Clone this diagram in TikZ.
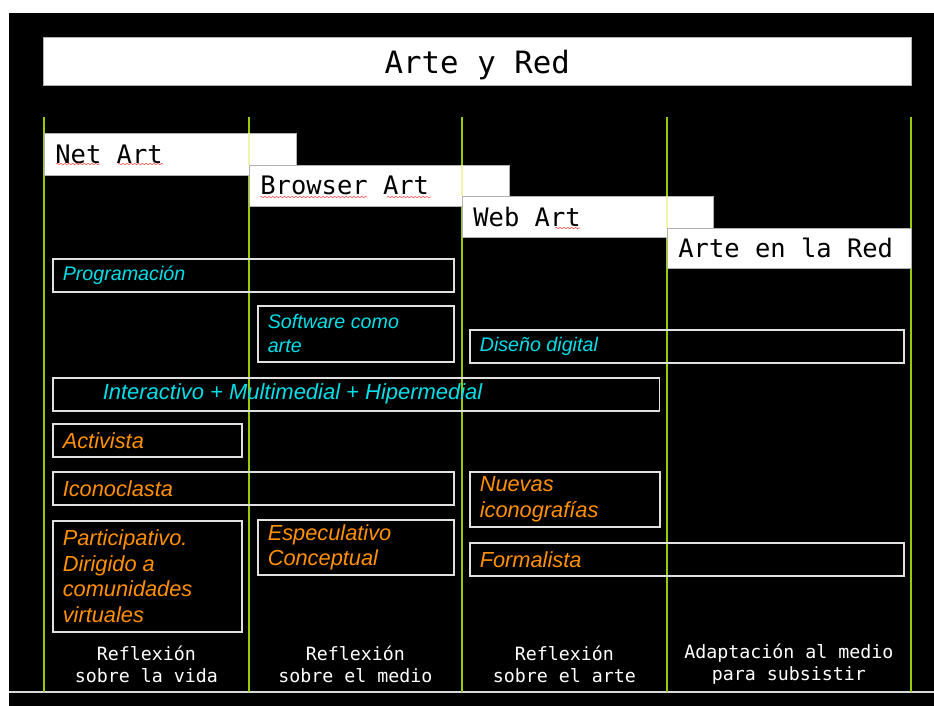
\documentclass[tikz,border=0pt]{standalone}
\usepackage{fontspec}
\setmainfont{Liberation Sans}
\newfontfamily\monofont{DejaVu Sans Mono}
\usetikzlibrary{decorations.pathmorphing}
\definecolor{verdelinea}{RGB}{153,204,0}
\definecolor{amarillotenue}{RGB}{240,245,170}
\definecolor{cianclaro}{RGB}{0,222,232}
\definecolor{naranja}{RGB}{255,144,0}
\definecolor{bordecaja}{RGB}{225,225,225}

\begin{document}
\begin{tikzpicture}[x=0.02cm, y=-0.02cm,
    titulo/.style={fill=white, draw=gray!60, thin, anchor=north west, inner sep=0pt,
        text depth=0pt, font=\monofont\fontsize{17.5}{20}\selectfont},
    etapa/.style={fill=white, draw=gray!60, thin,
        anchor=north west, inner xsep=0.22cm, inner ysep=0pt, align=flush left,
        font=\monofont\fontsize{14.5}{16}\selectfont},
    cajacian/.style={draw=bordecaja, line width=0.9pt, text=cianclaro, anchor=north west,
        inner xsep=0.2cm, inner ysep=0pt, align=flush left,
        font=\itshape\fontsize{11.2}{13.6}\selectfont},
    cajanar/.style={draw=bordecaja, line width=0.9pt, text=naranja, anchor=north west,
        inner xsep=0.2cm, inner ysep=0pt, align=flush left,
        font=\itshape\fontsize{12.4}{14.6}\selectfont},
    pie/.style={text=white, align=center, font=\monofont\fontsize{10.4}{12.5}\selectfont},
    ondas/.style={red!70, line width=0.35pt, decorate,
        decoration={snake, amplitude=0.35pt, segment length=2.2pt}}]

    % fondo
    \useasboundingbox (0,0) rectangle (934,706);
    \fill[white] (0,0) rectangle (934,706);
    \fill[black] (9,13) rectangle (934,706);
    \draw[white!85!black, line width=0.6pt] (9,692) -- (934,692);

    % titulo
    \node[titulo, minimum width=17.36cm, minimum height=0.96cm] (titulo) at (43,37) {Arte y Red};

    % columnas
    \foreach \x in {44,249,462,667,911}
        \draw[verdelinea, line width=0.85pt] (\x,117) -- (\x,692);

    % etapas
    \node[etapa, text width=4.6cm, minimum height=0.84cm] (netart) at (44,133) {Net Art};
    \node[etapa, text width=4.76cm, minimum height=0.82cm] (browser) at (249,165) {Browser Art};
    \node[etapa, text width=4.58cm, minimum height=0.82cm] (webart) at (462,196) {Web Art};
    \node[etapa, text width=4.44cm, minimum height=0.8cm] (artered) at (667,228) {Arte en la Red};

    % la columna se adivina bajo las etapas
    \draw[amarillotenue, line width=0.6pt] (249,133) -- (249,165);
    \draw[amarillotenue, line width=0.6pt] (462,165) -- (462,196);
    \draw[amarillotenue, line width=0.6pt] (667,196) -- (667,228);

    % subrayado del corrector
    \draw[ondas] (56,164) -- (100,164);
    \draw[ondas] (118,164) -- (163,164);
    \draw[ondas] (260,197) -- (367,197);
    \draw[ondas] (387,197) -- (431,197);
    \draw[ondas] (555,228) -- (580,228);

    % rasgos tecnicos
    \node[cajacian, text width=7.62cm, minimum height=0.66cm] (program) at (52,258) {Programación};
    \node[cajacian, text width=3.52cm, minimum height=1.12cm] (software) at (257,305) {Software como\\arte};
    \node[cajacian, text width=8.28cm, minimum height=0.66cm] (diseno) at (469,329) {Diseño digital};
    \node[cajacian, text width=11.74cm, minimum height=0.66cm, font=\itshape\fontsize{12.5}{14}\selectfont]
        (interact) at (52,377) {\hspace*{0.8cm}Interactivo + Multimedial + Hipermedial};

    % actitudes
    \node[cajanar, text width=3.38cm, minimum height=0.66cm] (activista) at (52,423) {Activista};
    \node[cajanar, text width=7.62cm, minimum height=0.66cm] (iconoclasta) at (52,471) {Iconoclasta};
    \node[cajanar, text width=3.4cm, minimum height=1.1cm] (nuevas) at (469,471) {Nuevas\\iconografías};
    \node[cajanar, text width=3.38cm, minimum height=2.22cm] (particip) at (52,520)
        {Participativo.\\Dirigido a\\comunidades\\virtuales};
    \node[cajanar, text width=3.52cm, minimum height=1.1cm] (especul) at (257,519)
        {Especulativo\\Conceptual};
    \node[cajanar, text width=8.28cm, minimum height=0.66cm] (formal) at (469,542) {Formalista};

    % pie de columnas
    \node[pie] (vida) at (146.5,664) {Reflexión\\sobre la vida};
    \node[pie] (medio) at (355.5,664) {Reflexión\\sobre el medio};
    \node[pie] (arte) at (564.5,664) {Reflexión\\sobre el arte};
    \node[pie] (adapt) at (789,664) {Adaptación al medio\\para subsistir};
\end{tikzpicture}
\end{document}
